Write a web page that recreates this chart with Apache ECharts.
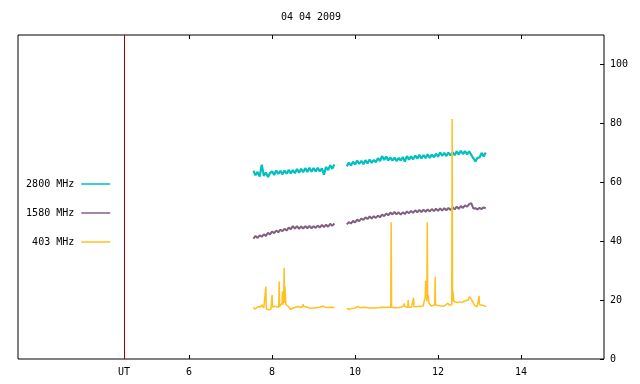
<!DOCTYPE html>
<html>
<head>
<meta charset="utf-8">
<script src="https://cdn.jsdelivr.net/npm/echarts@6/dist/echarts.min.js"></script>
<style>
html, body { margin: 0; padding: 0; background: #fff; }
#chart { width: 640px; height: 384px; }
</style>
</head>
<body>
<div id="chart"></div>
<script>
const FONT = 'DejaVu Sans Mono'
const seriesNames = ['2800 MHz', '1580 MHz', '403 MHz']
const seriesColors = ['#00c0c0', '#806080', '#ffc020']
const sunriseHour = 4.43
const xTicks = [6, 8, 10, 12, 14]
const yTicks = [0, 20, 40, 60, 80, 100]

// UT hours, shared by 2800 and 1580 (9.65 = data gap)
const hoursMain = [
  7.55, 7.60, 7.65, 7.70, 7.75, 7.80, 7.85, 7.90, 7.95, 8.00,
  8.05, 8.10, 8.15, 8.20, 8.25, 8.30, 8.35, 8.40, 8.45, 8.50,
  8.55, 8.60, 8.65, 8.70, 8.75, 8.80, 8.85, 8.90, 8.95, 9.00,
  9.05, 9.10, 9.15, 9.20, 9.25, 9.30, 9.35, 9.40, 9.45, 9.50,
  9.65,
  9.80, 9.85, 9.90, 9.95, 10.00, 10.05, 10.10, 10.15, 10.20, 10.25,
  10.30, 10.35, 10.40, 10.45, 10.50, 10.55, 10.60, 10.65, 10.70, 10.75,
  10.80, 10.85, 10.90, 10.95, 11.00, 11.05, 11.10, 11.15, 11.20, 11.25,
  11.30, 11.35, 11.40, 11.45, 11.50, 11.55, 11.60, 11.65, 11.70, 11.75,
  11.80, 11.85, 11.90, 11.95, 12.00, 12.05, 12.10, 12.15, 12.20, 12.25,
  12.30, 12.35, 12.40, 12.45, 12.50, 12.55, 12.60, 12.65, 12.70, 12.75,
  12.80, 12.85, 12.90, 12.95, 13.00, 13.05, 13.10, 13.15
]
const mhz2800 = [
  63.9, 62.4, 63.5, 61.9, 66.0, 62.2, 63.3, 61.8, 63.1, 63.7,
  62.5, 64.0, 62.8, 63.9, 62.7, 64.0, 62.9, 64.2, 63.0, 64.1,
  63.1, 64.5, 63.2, 64.6, 63.4, 64.8, 63.5, 64.9, 63.6, 64.8,
  63.7, 64.9, 63.7, 64.7, 62.6, 65.2, 64.1, 65.8, 64.6, 66.0,
  null,
  65.4, 66.7, 65.7, 67.0, 66.0, 67.4, 66.2, 67.3, 66.1, 67.5,
  66.4, 67.7, 66.6, 67.6, 66.8, 68.2, 67.2, 68.9, 67.6, 68.7,
  67.4, 68.5, 67.3, 68.4, 67.2, 68.3, 67.4, 68.6, 67.0, 68.9,
  67.7, 68.8, 67.8, 69.1, 68.0, 69.3, 68.1, 69.2, 68.2, 69.5,
  68.3, 69.4, 68.5, 69.7, 68.7, 70.1, 69.0, 70.0, 68.9, 70.1,
  69.1, 70.2, 69.2, 70.5, 69.4, 70.7, 69.6, 70.6, 69.5, 70.5,
  69.3, 68.2, 67.1, 68.3, 68.4, 70.0, 68.8, 70.1
]
const mhz1580 = [
  40.9, 41.8, 41.1, 42.0, 41.5, 42.3, 41.8, 42.8, 42.3, 43.3,
  42.7, 43.6, 43.0, 43.9, 43.4, 44.2, 43.6, 44.6, 44.1, 45.1,
  44.3, 45.1, 44.2, 45.0, 44.3, 45.1, 44.4, 45.2, 44.4, 45.1,
  44.5, 45.3, 44.6, 45.5, 44.8, 45.6, 44.9, 45.9, 45.2, 46.0,
  null,
  45.7, 46.5, 46.0, 46.9, 46.4, 47.3, 46.8, 47.7, 47.2, 48.1,
  47.5, 48.4, 47.7, 48.5, 47.9, 48.7, 48.1, 49.0, 48.5, 49.4,
  48.8, 49.7, 49.1, 49.9, 49.1, 49.8, 49.0, 49.8, 49.2, 50.1,
  49.5, 50.3, 49.6, 50.5, 49.8, 50.6, 49.9, 50.7, 50.0, 50.8,
  50.1, 50.9, 50.2, 51.0, 50.3, 51.1, 50.4, 51.2, 50.5, 51.3,
  50.6, 51.5, 50.8, 51.7, 51.0, 51.9, 51.3, 52.2, 51.7, 52.6,
  52.9, 51.1, 51.2, 50.8, 51.3, 50.9, 51.5, 51.1
]

// 403 MHz has its own sampling (bursts)
const hours403 = [
  7.55, 7.58, 7.62, 7.66, 7.72, 7.75, 7.80, 7.84, 7.85, 7.86,
  7.92, 7.97, 7.99, 8.00, 8.01, 8.06, 8.10, 8.16, 8.17, 8.18,
  8.22, 8.24, 8.25, 8.26, 8.28, 8.29, 8.30, 8.31, 8.33, 8.36,
  8.39, 8.44, 8.47, 8.52, 8.56, 8.62, 8.68, 8.74, 8.75, 8.76,
  8.80, 8.84, 8.90, 8.95, 9.02, 9.08, 9.15, 9.22, 9.28, 9.35,
  9.42, 9.50,
  9.65,
  9.80, 9.85, 9.92, 10.00, 10.07, 10.12, 10.20, 10.27, 10.35, 10.43,
  10.50, 10.58, 10.64, 10.72, 10.80, 10.86, 10.87, 10.88, 10.94, 11.00,
  11.06, 11.12, 11.17, 11.18, 11.20, 11.27, 11.28, 11.29, 11.36, 11.40,
  11.41, 11.42, 11.50, 11.57, 11.64, 11.68, 11.69, 11.70, 11.72, 11.73,
  11.74, 11.75, 11.76, 11.78, 11.80, 11.84, 11.87, 11.92, 11.93, 11.94,
  12.00, 12.06, 12.12, 12.18, 12.24, 12.27, 12.30, 12.33, 12.34, 12.35,
  12.36, 12.38, 12.40, 12.46, 12.52, 12.58, 12.64, 12.68, 12.72, 12.76,
  12.79, 12.83, 12.88, 12.94, 12.98, 12.99, 13.00, 13.04, 13.10, 13.16
]
const mhz403 = [
  17.6, 16.9, 17.0, 17.8, 17.6, 18.4, 17.4, 16.8, 24.6, 17.0,
  16.7, 16.9, 17.5, 21.7, 17.6, 17.9, 17.8, 17.6, 26.3, 17.8,
  18.2, 18.9, 23.0, 18.4, 21.0, 31.0, 19.0, 24.6, 18.6, 18.2,
  17.8, 16.9, 16.7, 17.4, 17.9, 17.8, 17.5, 17.8, 18.6, 17.9,
  17.6, 17.6, 17.3, 17.2, 17.3, 17.5, 17.6, 17.9, 17.6, 17.5,
  17.6, 17.5,
  null,
  17.2, 16.9, 17.1, 17.3, 17.9, 17.4, 17.6, 17.5, 17.3, 17.3,
  17.4, 17.5, 17.6, 17.5, 17.6, 17.6, 46.4, 17.6, 17.4, 17.4,
  17.5, 17.6, 18.2, 18.9, 17.8, 17.6, 20.0, 17.6, 17.6, 17.7,
  20.8, 17.7, 17.8, 17.8, 18.0, 18.2, 21.0, 26.6, 22.0, 19.5,
  46.4, 20.5, 21.7, 19.0, 18.9, 18.0, 17.9, 18.3, 27.9, 18.3,
  18.2, 18.0, 17.9, 18.3, 19.0, 18.2, 17.9, 18.5, 81.5, 19.5,
  22.9, 19.6, 19.0, 19.2, 19.4, 19.2, 19.7, 19.5, 20.0, 21.2,
  20.5, 19.7, 18.2, 17.7, 18.0, 21.4, 18.4, 18.5, 18.2, 17.7
]

function pairs(xs, ys) {
  return xs.map((x, i) => [x, ys[i]])
}

const chart = echarts.init(document.getElementById('chart'), null, { renderer: 'canvas' })

const textStyle = { fontFamily: FONT, fontSize: 10, color: '#000' }

const option = {
  animation: false,
  backgroundColor: '#fff',
  title: {
    text: '04 04 2009',
    left: 311,
    top: 12,
    padding: 0,
    textAlign: 'center',
    textStyle: { fontFamily: FONT, fontSize: 10, fontWeight: 'normal', color: '#000' }
  },
  legend: seriesNames.map((n, i) => ({
    data: [n],
    right: 529,
    top: 179 + i * 29,
    padding: 0,
    align: 'right',
    itemWidth: 29,
    itemHeight: 10,
    selectedMode: false,
    itemStyle: { opacity: 0 },
    lineStyle: { width: 1.5 },
    textStyle: Object.assign({ padding: [0, 2, 0, 0] }, textStyle)
  })),
  grid: {
    left: 18, right: 36, top: 35, bottom: 25,
    containLabel: false,
    outerBoundsMode: 'none',
    show: true,
    borderColor: '#000',
    borderWidth: 1
  },
  xAxis: [
    {
      type: 'value', min: 1.875, max: 16, position: 'bottom',
      splitLine: { show: false },
      axisLine: { show: false },
      axisTick: { show: true, inside: true, length: 4, customValues: xTicks, lineStyle: { color: '#000' } },
      axisLabel: {
        customValues: [sunriseHour].concat(xTicks),
        margin: 8,
        fontFamily: FONT, fontSize: 10, color: '#000',
        formatter: v => Math.abs(v - sunriseHour) < 1e-6 ? 'UT' : String(v)
      }
    },
    {
      type: 'value', min: 1.875, max: 16, position: 'top',
      splitLine: { show: false },
      axisLine: { show: false },
      axisTick: { show: true, inside: true, length: 4, customValues: xTicks, lineStyle: { color: '#000' } },
      axisLabel: { show: false }
    }
  ],
  yAxis: {
    type: 'value', min: 0, max: 110, position: 'right',
    splitLine: { show: false },
    axisLine: { show: false },
    axisTick: { show: true, inside: true, length: 4, customValues: yTicks, lineStyle: { color: '#000' } },
    axisLabel: { customValues: yTicks, margin: 6, fontFamily: FONT, fontSize: 10, color: '#000' }
  },
  series: [
    {
      name: seriesNames[0], type: 'line', symbol: 'none', connectNulls: false,
      data: pairs(hoursMain, mhz2800),
      lineStyle: { color: seriesColors[0], width: 2.2 },
      itemStyle: { color: seriesColors[0] },
      markLine: {
        silent: true, symbol: 'none', label: { show: false },
        lineStyle: { color: '#a00000', type: 'solid', width: 1 },
        data: [{ xAxis: sunriseHour }]
      }
    },
    {
      name: seriesNames[1], type: 'line', symbol: 'none', connectNulls: false,
      data: pairs(hoursMain, mhz1580),
      lineStyle: { color: seriesColors[1], width: 2 },
      itemStyle: { color: seriesColors[1] }
    },
    {
      name: seriesNames[2], type: 'line', symbol: 'none', connectNulls: false,
      data: pairs(hours403, mhz403),
      lineStyle: { color: seriesColors[2], width: 1.5 },
      itemStyle: { color: seriesColors[2] }
    }
  ]
}

chart.setOption(option)
</script>
</body>
</html>
